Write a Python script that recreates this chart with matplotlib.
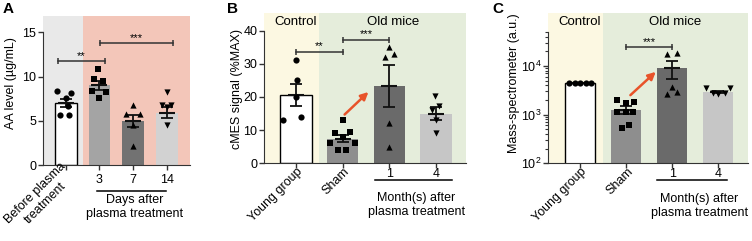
import matplotlib
matplotlib.use("Agg")
import matplotlib.pyplot as plt
import numpy as np
from matplotlib.ticker import FixedLocator, NullFormatter

plt.rcParams['font.family'] = ['Liberation Sans', 'DejaVu Sans']
plt.rcParams['font.size'] = 9

# ---------------- data ----------------
# Panel A
a_labels = ["Before plasma\ntreatment", "3", "7", "14"]
a_means = [7.0, 9.0, 5.0, 5.9]
a_sem = [0.45, 0.55, 0.65, 0.6]
a_before = [8.4, 8.1, 7.6, 6.7, 5.6, 5.7]
a_day3 = [10.9, 9.7, 9.5, 8.35, 8.3, 7.6]
a_day7 = [6.8, 5.8, 5.8, 4.5, 2.1]
a_day14 = [8.3, 6.8, 6.8, 6.6, 4.5]
a_sig = [(-0.23, 1.17, 11.8, "**"), (1.02, 3.18, 13.8, "***")]

# Panel B
b_labels = ["Young group", "Sham", "1", "4"]
b_means = [20.6, 7.4, 23.3, 15.0]
b_sem = [3.3, 1.1, 6.2, 1.9]
b_young = [31.0, 25.0, 20.0, 13.0, 14.0]
b_sham = [13.0, 9.0, 9.3, 8.0, 6.0, 6.0, 4.0, 4.0]
b_m1 = [35.0, 32.0, 32.8, 12.0, 4.8]
b_m4 = [20.3, 16.2, 17.2, 13.2, 9.2]
b_sig = [(0, 1, 33.7, "**"), (1, 2, 37.3, "***")]
b_arrow = [(1.04, 14.7), (1.55, 21.5)]

# Panel C
c_labels = ["Young group", "Sham", "1", "4"]
c_means = [4400, 1250, 9100, 2900]
c_sem = [0, 240, 3700, 150]
c_young = [4400, 4400, 4400, 4400, 4400]
c_sham = [2040, 1770, 1850, 1110, 1110, 1150, 620, 540]
c_m1 = [17400, 18700, 3700, 2700, 2940]
c_m4 = [3560, 2800, 2700, 2800, 3450]
c_sig = [(1, 2, 24500, "***")]
c_arrow = [(1.09, 2510), (1.64, 7560)]

# ---------------- layout / style (not data) ----------------
a_offs = [[-0.26, 0.16, 0.0, 0.06, -0.18, 0.09],
          [-0.03, -0.15, 0.12, -0.23, 0.19, -0.02],
          [0.0, -0.22, 0.2, 0.0, 0.0],
          [0.0, -0.13, 0.12, 0.0, 0.0]]
b_offs = [[0.0, 0.01, 0.0, -0.27, 0.11],
          [0.0, -0.17, 0.15, 0.0, -0.27, 0.26, -0.1, 0.08],
          [0.0, -0.09, 0.09, 0.0, 0.0],
          [-0.02, -0.09, 0.07, 0.0, 0.0]]
c_offs = [[-0.24, -0.12, 0.0, 0.12, 0.24],
          [-0.2, 0.0, 0.17, -0.2, 0.0, 0.15, 0.05, -0.1],
          [-0.11, 0.09, 0.0, -0.11, 0.09],
          [-0.28, -0.11, 0.0, 0.14, 0.26]]
markers = ['o', 's', '^', 'v']
W, H = 752, 241
FS = 9

fig = plt.figure(figsize=(W / 100, H / 100), dpi=100)


def rect(l, r, t, b):
    return [l / W, 1 - b / H, (r - l) / W, (b - t) / H]


axA = fig.add_axes(rect(43, 190, 16, 165))
axB = fig.add_axes(rect(264.3, 466, 12.7, 163.3))
axC = fig.add_axes(rect(548.3, 748, 12.7, 163.3))


def px2ax(ax, ypx):
    pos = ax.get_position()
    top = (1 - pos.y1) * H
    bot = (1 - pos.y0) * H
    return (bot - ypx) / (bot - top)


def panel(ax, means, sems, pts, offs, colors, width, xlim, spine_top):
    x = np.arange(len(means))
    ec = ['black' if c == 'white' else c for c in colors]
    lw = [1.0 if c == 'white' else 0 for c in colors]
    ax.bar(x, means, width=width, color=colors, edgecolor=ec, linewidth=lw, zorder=2)
    for i in range(len(means)):
        ax.errorbar(x[i], means[i], yerr=sems[i], fmt='none', ecolor='#111111',
                    elinewidth=1.3, capsize=4, capthick=1.3, zorder=4)
        ax.plot([x[i]], [means[i]], marker='_', ms=11, mew=1.5, color='#111111', zorder=4)
        ax.scatter(x[i] + np.array(offs[i]), pts[i], marker=markers[i], s=20,
                   color='black', linewidths=0, zorder=5)
    ax.set_xlim(*xlim)
    for s in ['top', 'right']:
        ax.spines[s].set_visible(False)
    ax.spines['left'].set_bounds(ax.get_ylim()[0], spine_top)
    ax.spines['left'].set_color('#333333')
    ax.spines['bottom'].set_color('#333333')
    ax.set_xticks(x)
    ax.set_xticklabels([])
    ax.tick_params(axis='both', direction='out', length=3.5, width=1, colors='#333333',
                   labelcolor='black', labelsize=FS, pad=1.5)


def sig(ax, items, fs=8):
    for x1, x2, y, lab in items:
        ax.plot([x1, x2], [y, y], color='#333333', lw=1.1, zorder=6, clip_on=False)
        ax.plot([x1, x2], [y, y], ls='none', marker='|', ms=5, mew=1.1, color='#333333',
                zorder=6, clip_on=False)
        ax.text((x1 + x2) / 2, y, lab, ha='center', va='bottom', fontsize=fs, zorder=6)


def xlabels(ax, labels, rotated, ypx_num, ypx_rot):
    tr = ax.get_xaxis_transform()
    for i, lab in enumerate(labels):
        if rotated[i]:
            ax.text(i + 0.1, px2ax(ax, ypx_rot), lab, transform=tr, rotation=45,
                    rotation_mode='anchor', ha='right', va='center', multialignment='center',
                    fontsize=FS, clip_on=False)
        else:
            ax.text(i, px2ax(ax, ypx_num), lab, transform=tr, ha='center', va='center',
                    fontsize=FS, clip_on=False)


def group_line(ax, x1, x2, xc, ypx_line, ypx_text, text):
    tr = ax.get_xaxis_transform()
    ax.plot([x1, x2], [px2ax(ax, ypx_line)] * 2, transform=tr, color='black', lw=1.1,
            clip_on=False)
    ax.text(xc, px2ax(ax, ypx_text), text, transform=tr, ha='center', va='top',
            fontsize=FS, linespacing=1.2, clip_on=False)


# ---------------- Panel A ----------------
axA.set_ylim(0, 16.84)
axA.axvspan(-1, 0.5, color='#e9e9e9', zorder=0, lw=0)
axA.axvspan(0.5, 4, color='#f3c6b9', zorder=0, lw=0)
panel(axA, a_means, a_sem, [a_before, a_day3, a_day7, a_day14], a_offs,
      ['white', '#a4a4a4', '#727272', '#d2d2d2'], 0.645, (-0.674, 3.69), 15)
axA.set_yticks([0, 5, 10, 15])
sig(axA, a_sig)
xlabels(axA, a_labels, [True, False, False, False], 180, 170)
group_line(axA, 0.93, 2.97, 2.05, 190.7, 194, "Days after\nplasma treatment")

# ---------------- Panel B ----------------
axB.set_ylim(0, 45.4)
axB.axvspan(-1, 0.5, color='#fcf8e2', zorder=0, lw=0)
axB.axvspan(0.5, 4, color='#e5eddb', zorder=0, lw=0)
panel(axB, b_means, b_sem, [b_young, b_sham, b_m1, b_m4], b_offs,
      ['white', '#8e8e8e', '#6a6a6a', '#c6c6c6'], 0.67, (-0.68, 3.64), 40)
axB.set_yticks([0, 10, 20, 30, 40])
sig(axB, b_sig)
xlabels(axB, b_labels, [True, True, False, False], 174, 170)
group_line(axB, 1.7, 3.33, 2.58, 180, 192, "Month(s) after\nplasma treatment")
axB.annotate('', xy=b_arrow[1], xytext=b_arrow[0],
             arrowprops=dict(arrowstyle='-|>', color='#e8532a', lw=1.8, mutation_scale=11,
                             shrinkA=0, shrinkB=0), zorder=7)
axB.text(0.0, px2ax(axB, 22), "Control", transform=axB.get_xaxis_transform(),
         ha='center', va='center', fontsize=9.5)
axB.text(2.07, px2ax(axB, 22), "Old mice", transform=axB.get_xaxis_transform(),
         ha='center', va='center', fontsize=9.5)

# ---------------- Panel C ----------------
axC.set_yscale('log')
axC.set_ylim(100, 1.24e5)
axC.axvspan(-1, 0.5, color='#fcf8e2', zorder=0, lw=0)
axC.axvspan(0.5, 4, color='#e5eddb', zorder=0, lw=0)
panel(axC, c_means, c_sem, [c_young, c_sham, c_m1, c_m4], c_offs,
      ['white', '#8e8e8e', '#6a6a6a', '#c6c6c6'], 0.65, (-0.69, 3.64), 5e4)
axC.set_yticks([1e2, 1e3, 1e4])
axC.set_yticklabels([r'$\mathregular{10^{2}}$', r'$\mathregular{10^{3}}$', r'$\mathregular{10^{4}}$'])
minors = [m * 10 ** e for e in (2, 3, 4) for m in range(2, 10) if m * 10 ** e <= 5e4]
axC.yaxis.set_minor_locator(FixedLocator(minors))
axC.yaxis.set_minor_formatter(NullFormatter())
axC.tick_params(axis='y', which='minor', length=2, width=0.8, colors='#333333')
sig(axC, c_sig)
xlabels(axC, c_labels, [True, True, False, False], 174, 170)
group_line(axC, 1.67, 3.19, 2.59, 180, 193, "Month(s) after\nplasma treatment")
axC.annotate('', xy=c_arrow[1], xytext=c_arrow[0],
             arrowprops=dict(arrowstyle='-|>', color='#e8532a', lw=1.8, mutation_scale=11,
                             shrinkA=0, shrinkB=0), zorder=7)
axC.text(0.0, px2ax(axC, 22), "Control", transform=axC.get_xaxis_transform(),
         ha='center', va='center', fontsize=9.5)
axC.text(2.07, px2ax(axC, 22), "Old mice", transform=axC.get_xaxis_transform(),
         ha='center', va='center', fontsize=9.5)

# y labels and panel letters
fig.text(11 / W, 1 - 83 / H, "AA level (µg/mL)", rotation=90, ha='center', va='center', fontsize=FS)
fig.text(237 / W, 1 - 89 / H, "cMES signal (%MAX)", rotation=90, ha='center', va='center', fontsize=FS)
fig.text(514 / W, 1 - 83 / H, "Mass-spectrometer (a.u.)", rotation=90, ha='center', va='center', fontsize=FS)
fig.text(8 / W, 1 - 9 / H, "A", ha='center', va='center', fontsize=11, fontweight='bold')
fig.text(232 / W, 1 - 9 / H, "B", ha='center', va='center', fontsize=11, fontweight='bold')
fig.text(498 / W, 1 - 9 / H, "C", ha='center', va='center', fontsize=11, fontweight='bold')

fig.savefig("out.png", dpi=100)
